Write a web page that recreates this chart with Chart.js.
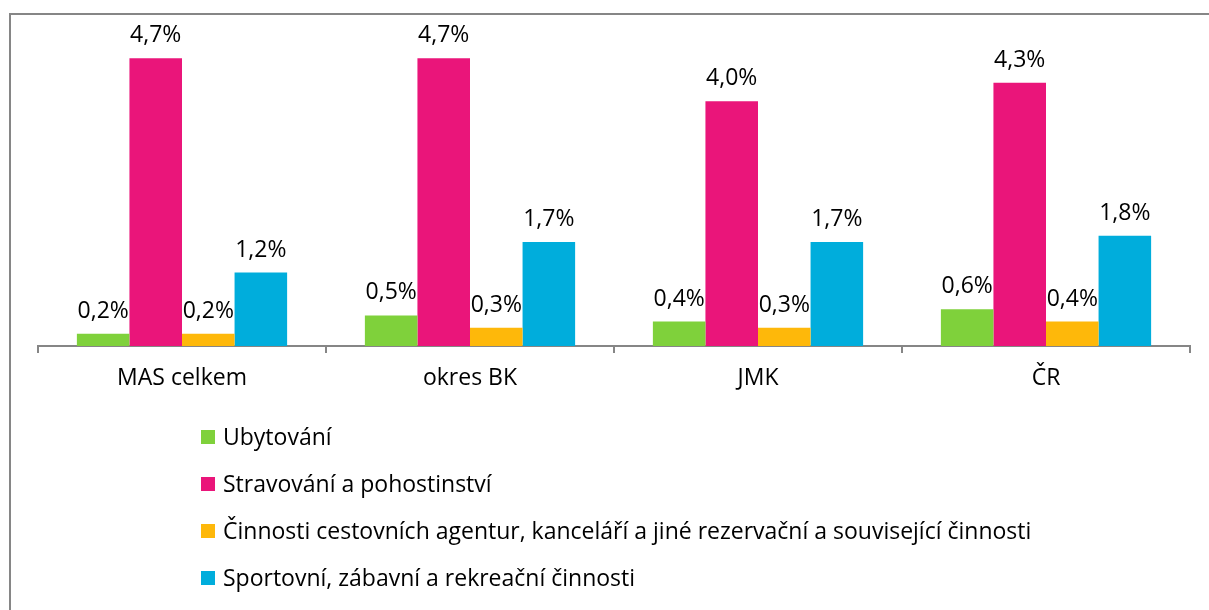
<!DOCTYPE html>
<html>
<head>
<meta charset="utf-8">
<script src="https://cdn.jsdelivr.net/npm/chart.js@4.4.1/dist/chart.umd.min.js"></script>
<style>
  html, body { margin: 0; padding: 0; background: #fff; }
  #wrap { width: 1209px; height: 610px; }
</style>
</head>
<body>
<div id="wrap"><canvas id="cr-chart" width="1209" height="610"></canvas></div>
<script>
const categories = ['MAS celkem', 'okres BK', 'JMK', 'ČR'];

const ubytovani = [0.2, 0.5, 0.4, 0.6];
const stravovani = [4.7, 4.7, 4.0, 4.3];
const cestovniAgentury = [0.2, 0.3, 0.3, 0.4];
const sportovni = [1.2, 1.7, 1.7, 1.8];

const seriesNames = [
    'Ubytování',
    'Stravování a pohostinství',
    'Činnosti cestovních agentur, kanceláří a jiné rezervační a související činnosti',
    'Sportovní, zábavní a rekreační činnosti'
];
const seriesColors = ['#7FD13B', '#EA157A', '#FEB80A', '#00ADDC'];

const FONT = '"Open Sans", Lato, sans-serif';

const fmt = v => v.toFixed(1).replace('.', ',') + '%';

// outer frame, runs off the right and bottom edges
const framePlugin = {
    id: 'frame',
    beforeDraw(chart) {
        const c = chart.ctx;
        c.save();
        c.strokeStyle = '#868686';
        c.lineWidth = 2;
        c.strokeRect(10, 14, 1260, 700);
        c.restore();
    }
};

// value labels above each bar
const valueLabels = {
    id: 'valueLabels',
    afterDatasetsDraw(chart) {
        const c = chart.ctx;
        c.save();
        c.font = '23px ' + FONT;
        c.fillStyle = '#000';
        c.textAlign = 'center';
        c.textBaseline = 'alphabetic';
        chart.data.datasets.forEach((ds, i) => {
            chart.getDatasetMeta(i).data.forEach((bar, j) => {
                c.fillText(fmt(ds.data[j]), bar.x, bar.y - 16);
            });
        });
        c.restore();
    }
};

// vertical legend under the axis
const listLegend = {
    id: 'listLegend',
    afterDraw(chart) {
        const c = chart.ctx;
        c.save();
        c.font = '23px ' + FONT;
        c.textBaseline = 'middle';
        chart.data.datasets.forEach((ds, i) => {
            const y = 437 + i * 47;
            c.fillStyle = ds.backgroundColor;
            c.fillRect(201, y - 7, 14, 14);
            c.fillStyle = '#000';
            c.fillText(ds.label, 223, y + 1);
        });
        c.restore();
    }
};

const seriesData = [ubytovani, stravovani, cestovniAgentury, sportovni];

new Chart(document.getElementById('cr-chart'), {
    type: 'bar',
    data: {
        labels: categories,
        datasets: seriesData.map((d, i) => ({
            label: seriesNames[i],
            data: d,
            backgroundColor: seriesColors[i],
            borderWidth: 0,
            categoryPercentage: 0.73,
            barPercentage: 1
        }))
    },
    options: {
        responsive: false,
        animation: false,
        layout: { padding: { top: 40, left: 38, right: 19, bottom: 204 } },
        plugins: {
            legend: { display: false },
            tooltip: { enabled: false }
        },
        scales: {
            y: { display: false, min: 0, max: 5 },
            x: {
                afterFit(scale) { scale.height = 60; },
                border: { display: true, color: '#868686', width: 2 },
                grid: {
                    offset: true,
                    drawOnChartArea: false,
                    drawTicks: true,
                    tickLength: 7,
                    color: '#868686',
                    lineWidth: 2
                },
                ticks: {
                    color: '#000',
                    font: { family: FONT, size: 23 },
                    padding: 12
                }
            }
        }
    },
    plugins: [framePlugin, valueLabels, listLegend]
});
</script>
</body>
</html>
